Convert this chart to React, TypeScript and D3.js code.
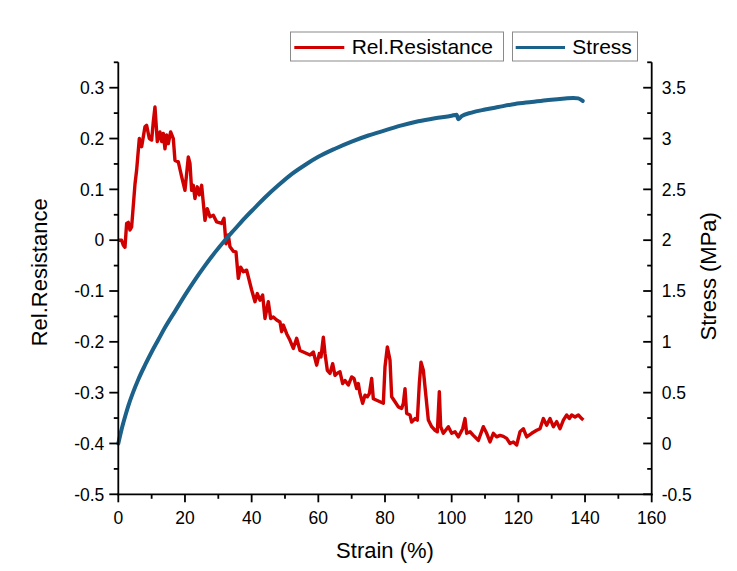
import React from "react";
import * as d3 from "d3";

const strainTicks = [0, 20, 40, 60, 80, 100, 120, 140, 160];
const resTicks = [-0.5, -0.4, -0.3, -0.2, -0.1, 0, 0.1, 0.2, 0.3];
const stressTicks = [-0.5, 0, 0.5, 1, 1.5, 2, 2.5, 3, 3.5];

const redStrain = [0, 1, 1.5, 2, 2.5, 3, 3.5, 4, 5, 5.5, 6.3, 7, 8, 8.5, 9.3, 10, 10.5, 11, 11.7, 12.5, 13, 13.5, 14, 14.5, 15, 15.7, 16.5, 17, 18, 19, 20, 21, 21.5, 22, 22.5, 23, 23.7, 24.3, 25, 26, 26.7, 27.5, 28.5, 29.5, 31, 31.7, 32.3, 33, 33.5, 34.5, 35.3, 36, 36.7, 37.5, 38.5, 40, 41, 41.7, 42.5, 43.3, 44, 45, 45.7, 46.5, 47.5, 48.5, 49, 49.5, 50.5, 51.5, 52.5, 53.5, 54.5, 55.5, 56.5, 57.5, 58.5, 59.5, 60.3, 60.8, 61.5, 62, 62.7, 63.5, 64.3, 65, 65.7, 66.5, 67.3, 68, 69, 70, 70.7, 71.5, 72, 72.5, 73.3, 74, 74.7, 75.3, 76, 76.5, 77.5, 78.5, 79.5, 80, 80.7, 81.5, 82, 83, 84, 85, 85.5, 86, 86.5, 87.5, 88, 89, 89.7, 90.3, 90.8, 91.5, 92.3, 93, 94, 95, 95.7, 96.3, 96.7, 97.5, 99, 100, 101, 102, 103.3, 104, 104.5, 105.5, 106.5, 108, 109.5, 110.5, 111.5, 112.5, 113.5, 114.5, 115.5, 116.5, 117.5, 118.5, 119.5, 120.5, 121.5, 122.5, 124, 125.5, 126.5, 127.5, 128.5, 129.5, 130.5, 131.5, 132.5, 133.5, 134.5, 135.3, 136, 137, 138, 139, 139.5];
const redRes = [0, 0, -0.01, -0.014, 0.033, 0.035, 0.02, 0.026, 0.11, 0.138, 0.2, 0.184, 0.223, 0.226, 0.2, 0.197, 0.233, 0.262, 0.194, 0.213, 0.194, 0.21, 0.18, 0.207, 0.19, 0.213, 0.2, 0.157, 0.154, 0.125, 0.098, 0.164, 0.151, 0.098, 0.108, 0.082, 0.105, 0.089, 0.108, 0.039, 0.062, 0.046, 0.049, 0.036, 0.033, 0.043, -0.007, 0.01, -0.013, -0.022, -0.023, -0.075, -0.053, -0.062, -0.059, -0.098, -0.121, -0.105, -0.118, -0.108, -0.154, -0.121, -0.154, -0.151, -0.157, -0.161, -0.18, -0.167, -0.184, -0.197, -0.213, -0.193, -0.217, -0.22, -0.223, -0.226, -0.22, -0.246, -0.223, -0.23, -0.191, -0.223, -0.256, -0.262, -0.243, -0.266, -0.262, -0.259, -0.282, -0.276, -0.285, -0.269, -0.272, -0.292, -0.282, -0.302, -0.321, -0.305, -0.308, -0.302, -0.272, -0.312, -0.315, -0.318, -0.321, -0.249, -0.21, -0.236, -0.308, -0.318, -0.328, -0.331, -0.321, -0.292, -0.341, -0.344, -0.358, -0.351, -0.354, -0.282, -0.24, -0.256, -0.308, -0.354, -0.367, -0.374, -0.377, -0.298, -0.367, -0.38, -0.367, -0.38, -0.377, -0.387, -0.371, -0.351, -0.38, -0.377, -0.384, -0.394, -0.367, -0.38, -0.397, -0.38, -0.387, -0.384, -0.386, -0.39, -0.4, -0.397, -0.403, -0.377, -0.371, -0.387, -0.38, -0.374, -0.371, -0.351, -0.364, -0.351, -0.367, -0.357, -0.371, -0.354, -0.344, -0.351, -0.344, -0.348, -0.344, -0.351, -0.354];

const blueStrain = [0, 1, 2, 3, 4.4, 6, 8, 10, 12, 14, 17, 20, 23, 26, 29, 32, 35, 38, 41, 44, 48, 52, 56, 60, 65, 70, 75, 80, 85, 90, 95, 100, 101.5, 102, 103, 106, 110, 114, 119, 124, 129, 134, 136.5, 138, 139.3];
const blueStress = [0, 0.14, 0.26, 0.37, 0.5, 0.63, 0.77, 0.9, 1.02, 1.14, 1.3, 1.46, 1.61, 1.75, 1.88, 2.0, 2.11, 2.22, 2.32, 2.42, 2.54, 2.65, 2.74, 2.82, 2.9, 2.97, 3.03, 3.08, 3.13, 3.17, 3.2, 3.225, 3.235, 3.19, 3.22, 3.255, 3.285, 3.31, 3.34, 3.36, 3.38, 3.395, 3.4, 3.395, 3.37];

const RED = "#d00000";
const BLUE = "#1b6189";
const FONT = "'Liberation Sans', Arial, sans-serif";

export default function App() {
  const L = 118.3, R = 651.7, T = 62.3, B = 494.3;
  const x = d3.scaleLinear().domain([0, 160]).range([L, R]);
  const yL = d3.scaleLinear().domain([-0.5, 0.35]).range([B, T]);
  const yR = d3.scaleLinear().domain([-0.5, 3.75]).range([B, T]);

  const redPts = redStrain.map((s, i) => [s, redRes[i]] as [number, number]);
  const bluePts = blueStrain.map((s, i) => [s, blueStress[i]] as [number, number]);
  const redLine = d3.line<[number, number]>().x(d => x(d[0])).y(d => yL(d[1]))(redPts) || "";
  const blueLine = d3.line<[number, number]>().x(d => x(d[0])).y(d => yR(d[1])).curve(d3.curveMonotoneX)(bluePts) || "";

  const xMinor = d3.range(10, 160, 20);
  const lMinor = d3.range(-0.45, 0.36, 0.1);
  const rMinor = d3.range(-0.25, 3.76, 0.5);
  const fmt = (v: number) => {
    const r = Math.round(v * 100) / 100;
    return r === 0 ? "0" : String(r);
  };

  const sw = 1.8;
  return (
    <svg width={737} height={571} style={{ position: "absolute", left: 0, top: 0, background: "#fff" }} fontFamily={FONT}>
      <rect x={0} y={0} width={737} height={571} fill="#fff" />
      {/* data */}
      <path d={redLine} fill="none" stroke={RED} strokeWidth={3.4} strokeLinejoin="round" />
      <path d={blueLine} fill="none" stroke={BLUE} strokeWidth={4} strokeLinejoin="round" strokeLinecap="round" />

      {/* axes lines */}
      <line x1={L} x2={L} y1={T} y2={B + 1} stroke="#000" strokeWidth={sw} />
      <line x1={R} x2={R} y1={T} y2={B + 1} stroke="#000" strokeWidth={sw} />
      <line x1={L - 1} x2={R + 1} y1={B} y2={B} stroke="#000" strokeWidth={sw} />

      {/* bottom ticks */}
      {strainTicks.map(v => (
        <g key={"xt" + v}>
          <line x1={x(v)} x2={x(v)} y1={B} y2={B + 8} stroke="#000" strokeWidth={sw} />
          <text x={x(v)} y={B + 30} fontSize={17.5} textAnchor="middle">{v}</text>
        </g>
      ))}
      {xMinor.map(v => (
        <line key={"xm" + v} x1={x(v)} x2={x(v)} y1={B} y2={B + 4.5} stroke="#000" strokeWidth={sw} />
      ))}

      {/* left ticks */}
      {resTicks.map(v => (
        <g key={"lt" + v}>
          <line x1={L - 9} x2={L} y1={yL(v)} y2={yL(v)} stroke="#000" strokeWidth={sw} />
          <text x={L - 14} y={yL(v) + 6.2} fontSize={17.5} textAnchor="end">{fmt(v)}</text>
        </g>
      ))}
      {lMinor.map(v => (
        <line key={"lm" + v} x1={L - 4.5} x2={L} y1={yL(v)} y2={yL(v)} stroke="#000" strokeWidth={sw} />
      ))}

      {/* right ticks (inward) */}
      {stressTicks.map(v => (
        <g key={"rt" + v}>
          <line x1={R - 8.5} x2={R} y1={yR(v)} y2={yR(v)} stroke="#000" strokeWidth={sw} />
          <text x={R + 10} y={yR(v) + 6.2} fontSize={17.5} textAnchor="start">{fmt(v)}</text>
        </g>
      ))}
      {rMinor.map(v => (
        <line key={"rm" + v} x1={R - 4.5} x2={R} y1={yR(v)} y2={yR(v)} stroke="#000" strokeWidth={sw} />
      ))}

      {/* axis titles */}
      <text x={(L + R) / 2} y={558} fontSize={22} textAnchor="middle">Strain (%)</text>
      <text transform={`translate(47, ${(T + B) / 2 - 6}) rotate(-90)`} fontSize={22} textAnchor="middle">Rel.Resistance</text>
      <text transform={`translate(716, ${(T + B) / 2 - 2}) rotate(-90)`} fontSize={22} textAnchor="middle">Stress (MPa)</text>

      {/* legend */}
      <rect x={290.5} y={32} width={213} height={29} fill="#fff" stroke="#8a8a8a" strokeWidth={1} />
      <line x1={294.3} x2={344.3} y1={47.5} y2={47.5} stroke={RED} strokeWidth={3} />
      <text x={351.7} y={54.3} fontSize={21}>Rel.Resistance</text>
      <rect x={512.5} y={32} width={125} height={29} fill="#fff" stroke="#8a8a8a" strokeWidth={1} />
      <line x1={515.7} x2={565} y1={47.5} y2={47.5} stroke={BLUE} strokeWidth={3} />
      <text x={572.3} y={54.3} fontSize={21}>Stress</text>
    </svg>
  );
}
